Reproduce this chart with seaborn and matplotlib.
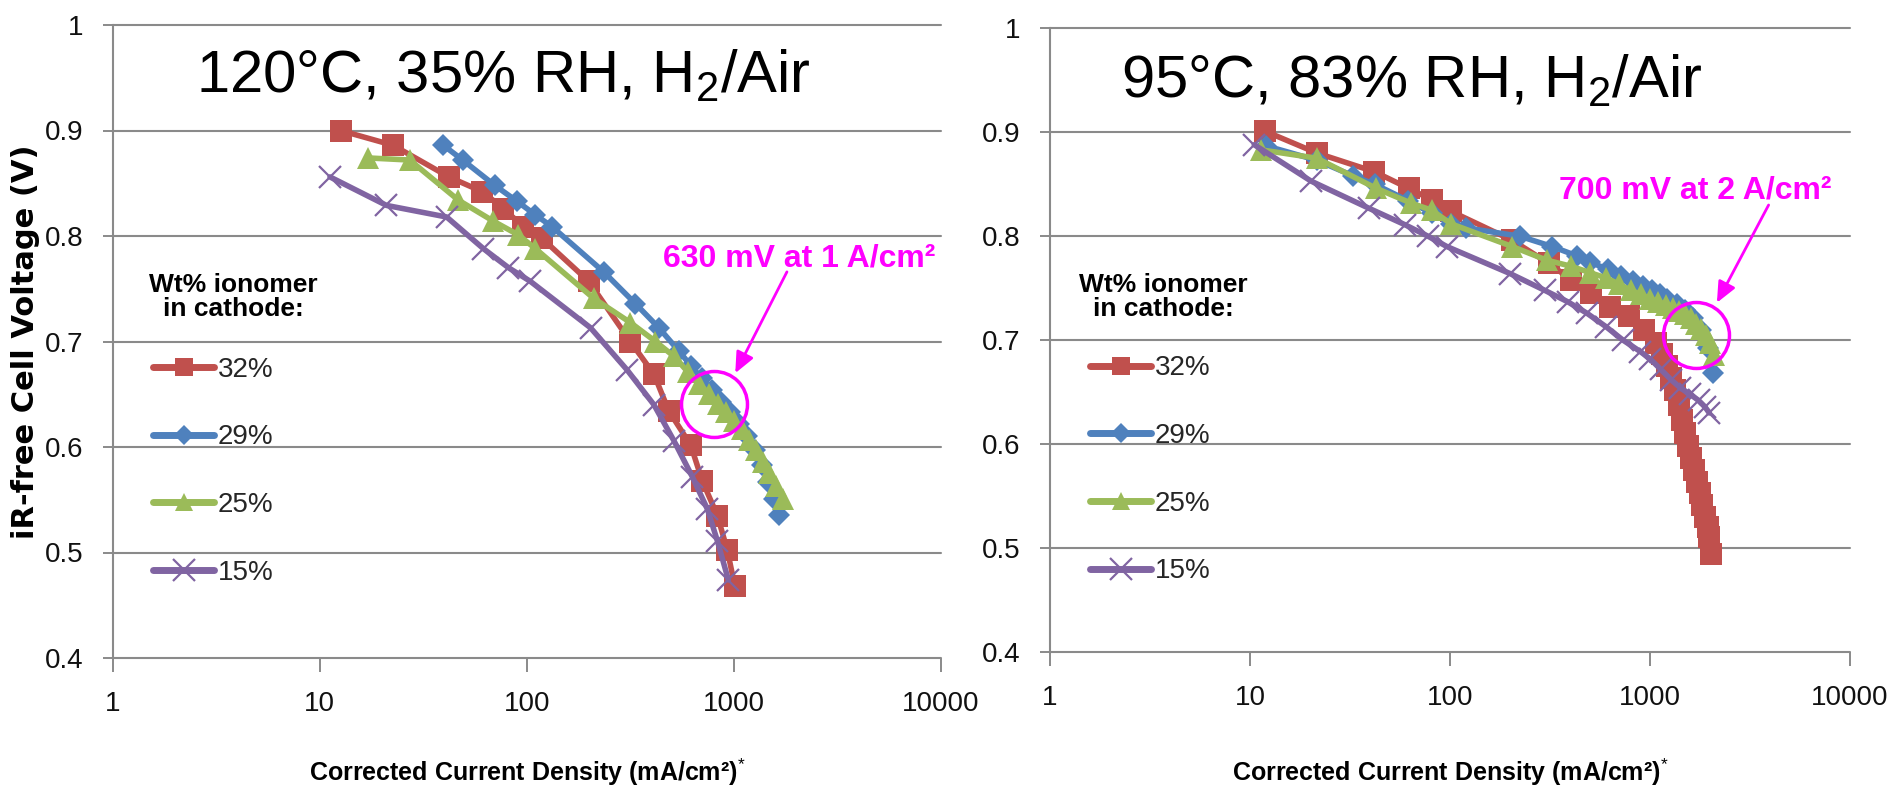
import matplotlib
matplotlib.use("Agg")
import matplotlib.pyplot as plt
from matplotlib import font_manager as fm
from matplotlib.lines import Line2D
from matplotlib.ticker import NullLocator
import seaborn as sns

# ---------------- data ----------------
SERIES = ["32%", "29%", "25%", "15%"]

# Left panel: 120 C, 35% RH
L_32_x = [12.6, 22.6, 42, 61, 77, 96, 118, 199, 316, 411, 485, 618, 703, 832, 930, 1010]
L_32_y = [0.900, 0.886, 0.856, 0.842, 0.826, 0.809, 0.798, 0.757, 0.700, 0.669, 0.634, 0.602, 0.568, 0.535, 0.502, 0.468]
L_29_x = [39.5, 49, 70, 89.5, 110, 132, 235, 334, 434, 542, 620, 700, 780, 870, 960, 1060, 1160, 1260, 1360, 1460, 1560, 1650]
L_29_y = [0.886, 0.872, 0.848, 0.833, 0.820, 0.809, 0.766, 0.736, 0.713, 0.691, 0.677, 0.665, 0.654, 0.643, 0.633, 0.622, 0.610, 0.597, 0.583, 0.567, 0.551, 0.536]
L_25_x = [17.1, 27.2, 46.7, 69, 91, 110, 210, 316, 418, 513, 600, 680, 760, 840, 920, 1000, 1090, 1180, 1280, 1380, 1480, 1600, 1720]
L_25_y = [0.874, 0.872, 0.834, 0.814, 0.801, 0.788, 0.741, 0.718, 0.700, 0.686, 0.671, 0.660, 0.650, 0.641, 0.633, 0.625, 0.617, 0.607, 0.597, 0.586, 0.575, 0.563, 0.551]
L_15_x = [11.2, 21, 41, 61.7, 81.5, 104, 203, 305, 411, 513, 629, 745, 832, 940]
L_15_y = [0.856, 0.829, 0.818, 0.788, 0.770, 0.757, 0.713, 0.673, 0.640, 0.606, 0.572, 0.541, 0.511, 0.474]

# Right panel: 95 C, 83% RH
R_32_x = [11.9, 21.6, 41.9, 62.3, 81, 101, 205, 311, 405, 505, 629, 784, 935, 1068, 1150, 1218, 1280, 1330, 1390, 1453,
          1500, 1553, 1610, 1660, 1720, 1773, 1830, 1892, 1940, 1978, 2023]
R_32_y = [0.901, 0.880, 0.862, 0.846, 0.835, 0.824, 0.796, 0.774, 0.758, 0.745, 0.732, 0.723, 0.710, 0.697, 0.687, 0.675, 0.664, 0.652, 0.638, 0.623,
          0.611, 0.598, 0.587, 0.575, 0.564, 0.553, 0.541, 0.530, 0.520, 0.511, 0.494]
R_29_x = [12, 21.6, 32.8, 42, 62, 81, 101, 120, 223, 325, 432, 500, 620, 720, 820, 920, 1020, 1120, 1220, 1360, 1500, 1650, 1800, 1950, 2065]
R_29_y = [0.887, 0.873, 0.858, 0.850, 0.834, 0.822, 0.812, 0.808, 0.800, 0.790, 0.781, 0.775, 0.768, 0.762, 0.757, 0.752, 0.748, 0.744, 0.740, 0.735, 0.729, 0.721, 0.710, 0.692, 0.668]
R_25_x = [11.4, 21.6, 42.8, 63.6, 81, 101, 205, 304, 405, 500, 600, 700, 800, 900, 1000, 1100, 1200, 1300, 1400, 1500, 1600, 1700, 1800, 1900, 2000, 2100]
R_25_y = [0.883, 0.875, 0.846, 0.832, 0.825, 0.812, 0.790, 0.777, 0.771, 0.765, 0.760, 0.754, 0.748, 0.744, 0.740, 0.737, 0.734, 0.731, 0.728, 0.725, 0.721, 0.716, 0.711, 0.705, 0.697, 0.686]
R_15_x = [10.5, 20.2, 39.2, 59.6, 77.6, 96.6, 200, 297, 387, 483, 602, 733, 895, 1000, 1130, 1274, 1420, 1585, 1750, 1880, 1978]
R_15_y = [0.888, 0.853, 0.827, 0.811, 0.800, 0.790, 0.764, 0.748, 0.737, 0.726, 0.713, 0.700, 0.689, 0.682, 0.672, 0.662, 0.654, 0.648, 0.642, 0.636, 0.630]

X_TICKS = [1, 10, 100, 1000, 10000]
X_TICK_LABELS = ["1", "10", "100", "1000", "10000"]
Y_TICKS = [0.4, 0.5, 0.6, 0.7, 0.8, 0.9, 1.0]
Y_TICK_LABELS = ["0.4", "0.5", "0.6", "0.7", "0.8", "0.9", "1"]

TITLE_L = "120°C, 35% RH, H$_2$/Air"
TITLE_R = "95°C, 83% RH, H$_2$/Air"
NOTE_L = "630 mV at 1 A/cm²"
NOTE_R = "700 mV at 2 A/cm²"
# annotation anchor points (current density, voltage)
CIRCLE_L = (797, 0.641)
CIRCLE_R = (1694, 0.705)
ARROW_L = ((1803, 0.766), (1015, 0.670))
ARROW_R = ((3918, 0.830), (2160, 0.736))
NOTE_L_POS = (2056, 0.771)
NOTE_R_POS = (1679, 0.8365)

YLABEL = "iR-free Cell Voltage (V)"
XLABEL = "Corrected Current Density (mA/cm²)$^{*}$"
LEGEND_TITLE = "Wt% ionomer\nin cathode:"

# ---------------- style ----------------
sns.set_theme(style="white")


def font_exists(name):
    try:
        fm.findfont(fm.FontProperties(family=name), fallback_to_default=False)
        return True
    except Exception:
        return False


NARROW = "Liberation Sans Narrow" if font_exists("Liberation Sans Narrow") else "Liberation Sans"
plt.rcParams["font.family"] = ["Liberation Sans", "DejaVu Sans"]
plt.rcParams["mathtext.fontset"] = "custom"
plt.rcParams["mathtext.rm"] = "Liberation Sans"
plt.rcParams["mathtext.it"] = "Liberation Sans:italic"
plt.rcParams["mathtext.bf"] = "Liberation Sans:bold"

COLORS = {"32%": "#C0504D", "29%": "#4F81BD", "25%": "#9BBB59", "15%": "#8064A2"}
MARKERS = {"32%": "s", "29%": "D", "25%": "^", "15%": "x"}
MS = {"32%": 16, "29%": 11.5, "25%": 16, "15%": 16}
LEG_MS = {"32%": 13, "29%": 10, "25%": 13, "15%": 16}
MEW = {"32%": 0, "29%": 0, "25%": 0, "15%": 1.6}
GRID = "#8a8a8a"
MAGENTA = "#FF00FF"

W, H = 1891, 792
fig = plt.figure(figsize=(W / 100, H / 100), dpi=100)
fig.patch.set_facecolor("white")


def add_axes_px(x0, x1, ytop, ybot):
    return fig.add_axes([x0 / W, 1 - ybot / H, (x1 - x0) / W, (ybot - ytop) / H])


axL = add_axes_px(112.7, 941, 25, 658)
axR = add_axes_px(1050, 1850, 28.3, 652)

panels = [
    (axL, {"32%": (L_32_x, L_32_y), "29%": (L_29_x, L_29_y), "25%": (L_25_x, L_25_y), "15%": (L_15_x, L_15_y)},
     TITLE_L, (0.472, 0.893), (0.0487, 0.476), (0.1452, 0.5708), CIRCLE_L, ARROW_L, NOTE_L, NOTE_L_POS, -0.194),
    (axR, {"32%": (R_32_x, R_32_y), "29%": (R_29_x, R_29_y), "25%": (R_25_x, R_25_y), "15%": (R_15_x, R_15_y)},
     TITLE_R, (0.452, 0.888), (0.05, 0.4755), (0.1417, 0.5697), CIRCLE_R, ARROW_R, NOTE_R, NOTE_R_POS, -0.207),
]

for (ax, data, title, tpos, legpos, legtpos, circ, arrow, note, notepos, xlab_y) in panels:
    ax.set_facecolor("white")
    for key in SERIES:
        xs, ys = data[key]
        c = COLORS[key]
        sns.lineplot(x=xs, y=ys, ax=ax, color=c, marker=MARKERS[key], markersize=MS[key],
                     markeredgecolor=c, markerfacecolor=c, markeredgewidth=MEW[key],
                     linewidth=4, estimator=None, sort=False, legend=False, zorder=3)

    ax.set_xscale("log")
    ax.set_xlim(1, 10000)
    ax.set_ylim(0.4, 1.0)
    ax.set_xticks(X_TICKS)
    ax.set_xticklabels(X_TICK_LABELS)
    ax.xaxis.set_minor_locator(NullLocator())
    ax.set_yticks(Y_TICKS)
    ax.set_yticklabels(Y_TICK_LABELS)
    ax.grid(False)
    ax.yaxis.grid(True, color=GRID, linewidth=1.5)
    for gl in ax.get_ygridlines():
        gl.set_clip_on(False)
    for s in ["top", "right", "bottom"]:
        ax.spines[s].set_visible(False)
    ax.spines["left"].set_color(GRID)
    ax.spines["left"].set_linewidth(1.5)
    ax.tick_params(axis="x", which="major", bottom=True, direction="out", length=10, width=1.4,
                   color=GRID, pad=14, labelsize=20, labelcolor="#111111")
    ax.tick_params(axis="y", which="major", left=True, direction="out", length=7.2, width=1.4,
                   color=GRID, pad=14, labelsize=20, labelcolor="#111111")
    for lab in ax.get_xticklabels() + ax.get_yticklabels():
        lab.set_family(NARROW)

    ax.set_xlabel(XLABEL, fontsize=18, fontweight="bold", family=NARROW, color="black")
    ax.xaxis.set_label_coords(0.5, xlab_y)
    ax.xaxis.label.set_verticalalignment("baseline")
    ax.set_ylabel("")

    ax.text(tpos[0], tpos[1], title, transform=ax.transAxes, ha="center", va="baseline",
            fontsize=43, color="black", family="Liberation Sans")

    handles = [Line2D([], [], color=COLORS[k], marker=MARKERS[k], markersize=LEG_MS[k],
                      markeredgecolor=COLORS[k], markerfacecolor=COLORS[k], markeredgewidth=MEW[k],
                      linewidth=5, solid_capstyle="round") for k in SERIES]
    ax.legend(handles=handles, labels=SERIES, loc="upper left", bbox_to_anchor=legpos,
              frameon=False, prop=fm.FontProperties(family=NARROW, size=20), handlelength=2.2,
              handletextpad=0.12, labelspacing=1.5, borderpad=0, borderaxespad=0)
    ax.text(legtpos[0], legtpos[1], LEGEND_TITLE, transform=ax.transAxes, ha="center", va="center",
            multialignment="center", fontsize=19, fontweight="bold", family="Liberation Sans",
            linespacing=1.0, color="black")

    ax.plot([circ[0]], [circ[1]], marker="o", markersize=47.5, markerfacecolor="none",
            markeredgecolor=MAGENTA, markeredgewidth=2.5, linestyle="none", zorder=5, clip_on=False)
    ax.annotate("", xy=arrow[1], xytext=arrow[0], xycoords="data", textcoords="data",
                arrowprops=dict(arrowstyle="-|>,head_length=0.9,head_width=0.4", color=MAGENTA,
                                lw=2, mutation_scale=14, shrinkA=0, shrinkB=0), zorder=6)
    ax.text(notepos[0], notepos[1], note, ha="center", va="baseline", fontsize=23,
            fontweight="bold", color=MAGENTA, family="Liberation Sans", zorder=6)

axL.set_ylabel(YLABEL, fontsize=22, fontweight="bold", family="DejaVu Sans", color="black")
axL.yaxis.set_label_coords(-0.1047, 0.5)
axL.yaxis.label.set_verticalalignment("center")

fig.savefig("out.png", dpi=100, facecolor="white")
